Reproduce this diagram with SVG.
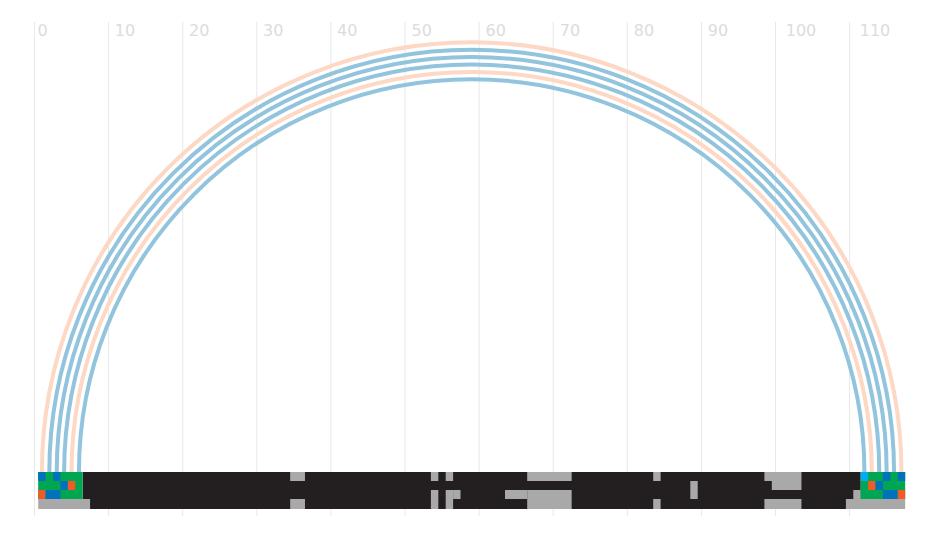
<svg xmlns="http://www.w3.org/2000/svg" width="936" height="536" viewBox="0 0 936 536">
<style>
.grid{stroke:#e8e8e8;stroke-width:1;fill:none}
.lbl{font-family:"DejaVu Sans",sans-serif;font-size:16px;fill:#dcdcdc;text-anchor:middle}
.arc{fill:none;stroke-width:4}
.peach{stroke:#fdd8c5}
.blue{stroke:#92c4de}
.dk{fill:#231f20}
.gy{fill:#a9a9a9}
.G{fill:#00a651}
.B{fill:#0072bc}
.O{fill:#f15a24}
.C{fill:#00aeef}
</style>
<rect width="936" height="536" fill="#ffffff"/>
<g id="grid">
<path class="grid" d="M34.5 22V516M108.6 22V516M182.7 22V516M256.8 22V516M330.9 22V516M405 22V516M479.1 22V516M553.2 22V516M627.3 22V516M701.4 22V516M775.5 22V516M849.6 22V516"/>
<text class="lbl" x="42.5" y="36">0</text>
<text class="lbl" x="125" y="36">10</text>
<text class="lbl" x="199.2" y="36">20</text>
<text class="lbl" x="273.3" y="36">30</text>
<text class="lbl" x="347.2" y="36">40</text>
<text class="lbl" x="421.7" y="36">50</text>
<text class="lbl" x="495.8" y="36">60</text>
<text class="lbl" x="570" y="36">70</text>
<text class="lbl" x="644" y="36">80</text>
<text class="lbl" x="718" y="36">90</text>
<text class="lbl" x="801" y="36">100</text>
<text class="lbl" x="875" y="36">110</text>
</g>
<g id="connectors">
<path id="arc1-117" class="arc peach" d="M41.91 472A429.78 429.78 0 0 1 901.47 472"/>
<path id="arc2-116" class="arc blue" d="M49.32 472A422.37 422.37 0 0 1 894.06 472"/>
<path id="arc3-115" class="arc blue" d="M56.73 472A414.96 414.96 0 0 1 886.65 472"/>
<path id="arc4-114" class="arc blue" d="M64.14 472A407.55 407.55 0 0 1 879.24 472"/>
<path id="arc5-113" class="arc peach" d="M71.55 472A400.14 400.14 0 0 1 871.83 472"/>
<path id="arc6-112" class="arc blue" d="M78.96 472A392.73 392.73 0 0 1 864.42 472"/>
</g>
<g id="track">
<rect class="dk" x="82.665" y="472" width="778.05" height="37"/>
<rect class="gy" x="38.205" y="499" width="51.875" height="10"/>
<rect class="gy" x="845.9" y="499" width="59.275" height="10"/>
<rect class="gy" x="290.15" y="472" width="14.82" height="9"/>
<rect class="gy" x="290.15" y="499" width="14.82" height="10"/>
<rect class="gy" x="430.9" y="472" width="7.41" height="9"/>
<rect class="gy" x="430.9" y="490" width="7.41" height="19"/>
<rect class="gy" x="445.7" y="472" width="7.41" height="9"/>
<rect class="gy" x="445.7" y="490" width="7.41" height="19"/>
<rect class="gy" x="453.1" y="490" width="7.41" height="9"/>
<rect class="gy" x="505" y="490" width="22.23" height="9"/>
<rect class="gy" x="527.2" y="472" width="44.46" height="9"/>
<rect class="gy" x="527.2" y="490" width="44.46" height="19"/>
<rect class="gy" x="653.2" y="472" width="7.41" height="9"/>
<rect class="gy" x="653.2" y="499" width="7.41" height="10"/>
<rect class="gy" x="690.3" y="481" width="7.41" height="18"/>
<rect class="gy" x="764.4" y="472" width="37.05" height="9"/>
<rect class="gy" x="771.8" y="481" width="29.64" height="9"/>
<rect class="gy" x="764.4" y="499" width="37.05" height="10"/>
<rect class="gy" x="853.3" y="490" width="7.41" height="9"/>
</g>
<g id="left-block">
<rect class="G" x="38.205" y="472" width="44.46" height="27"/>
<rect class="B" x="38.205" y="472" width="7.41" height="9"/>
<rect class="B" x="53.025" y="472" width="7.41" height="9"/>
<rect class="B" x="60.435" y="481" width="7.41" height="9"/>
<rect class="O" x="67.845" y="481" width="7.41" height="9"/>
<rect class="O" x="38.205" y="490" width="7.41" height="9"/>
<rect class="B" x="45.615" y="490" width="14.82" height="9"/>
</g>
<g id="right-block">
<rect class="G" x="860.715" y="472" width="44.46" height="27"/>
<rect class="C" x="860.715" y="472" width="7.41" height="9"/>
<rect class="B" x="882.945" y="472" width="7.41" height="9"/>
<rect class="B" x="897.765" y="472" width="7.41" height="9"/>
<rect class="O" x="868.125" y="481" width="7.41" height="9"/>
<rect class="B" x="875.535" y="481" width="7.41" height="9"/>
<rect class="B" x="882.945" y="490" width="14.82" height="9"/>
<rect class="O" x="897.765" y="490" width="7.41" height="9"/>
</g>
</svg>
